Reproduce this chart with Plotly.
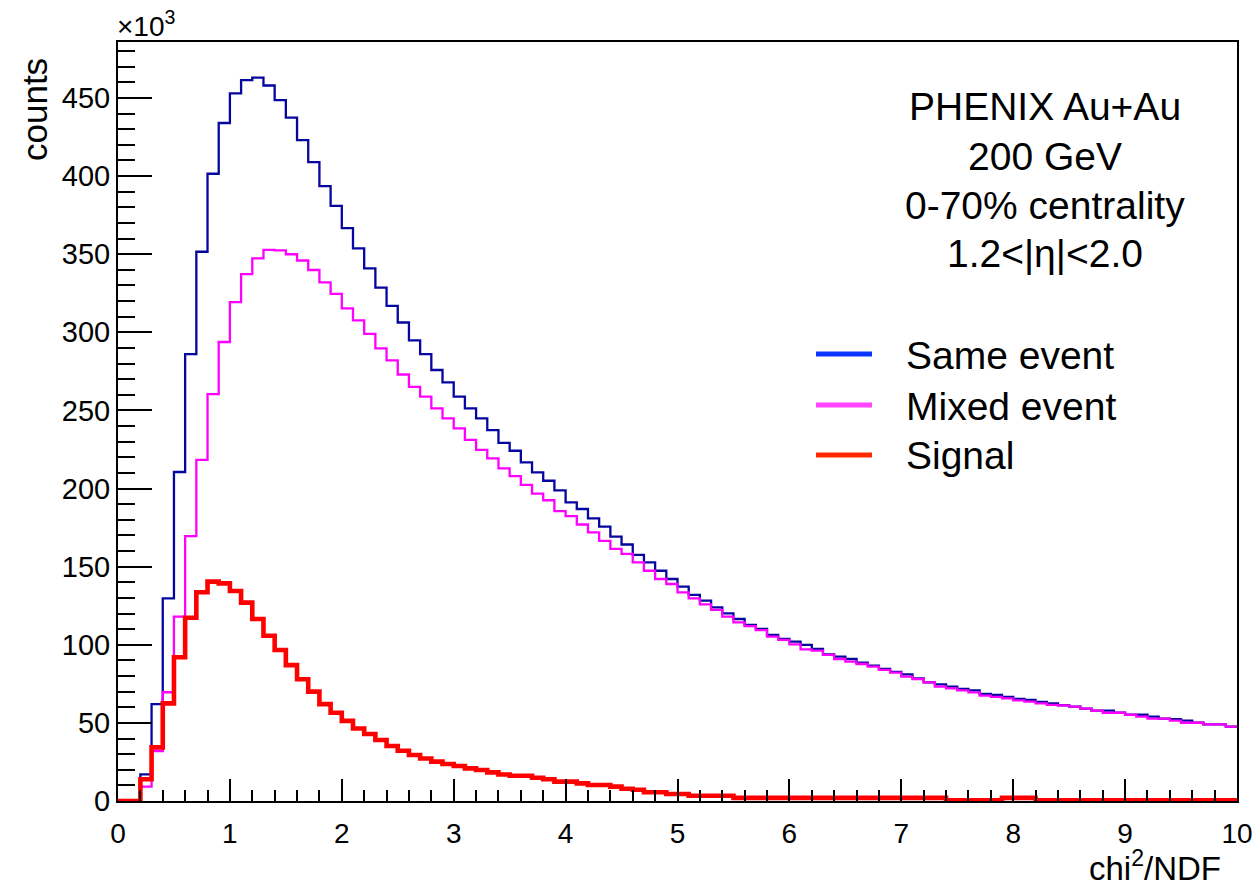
import numpy as np
import plotly.graph_objects as go

# 100 bins of width 0.1 on chi2/NDF in [0, 10]
bin_edges = np.round(np.linspace(0, 10, 101), 2)

# counts in units of 10^3
same_event = [
    0, 0, 17, 62, 129.7, 210.6, 286, 351.6, 401.5, 434,
    453, 461.5, 463, 458, 448.7, 437.4, 423, 409, 393.6, 381,
    366.7, 353.8, 341, 328.6, 316.9, 306.3, 294.8, 286.1, 275.9, 268,
    258.8, 251.3, 244.9, 237.4, 229.3, 224.2, 216.7, 210.3, 205, 198.9,
    191.2, 186.9, 180.9, 175.6, 169.2, 164.2, 157.6, 152.7, 147.4, 142.1,
    137.2, 131.9, 128.2, 124, 120.1, 116.5, 112.7, 110.1, 106.3, 103.7,
    102, 99.9, 97.3, 93.9, 92.4, 90.9, 88.5, 86.6, 84.5, 82.6,
    81.1, 78.5, 75.9, 74.7, 73.2, 71.7, 70.8, 68.5, 67.9, 66.6,
    65.3, 64.7, 63.4, 62.5, 61.3, 60.4, 59.1, 57.8, 57.8, 56.5,
    55.2, 55.2, 54, 52.7, 52.4, 51.4, 50.1, 49.1, 49.1, 47.6,
]

mixed_event = [
    0, 0, 9.2, 32, 69.6, 118, 169.6, 218.3, 260.5, 293.8,
    319.4, 337.3, 347.4, 352.8, 352.5, 350, 346, 339.9, 332, 324.6,
    315.4, 307.6, 299, 289.7, 282, 273, 265.1, 258.8, 251.3, 244.9,
    238.5, 231.1, 224.7, 219.3, 212.9, 208, 202.3, 196.7, 192.5, 185.6,
    182.4, 177, 171.9, 166.5, 161.4, 158.2, 152.7, 147.4, 142.1, 138.9,
    133.5, 129.7, 125.8, 122.3, 118, 114.3, 112, 109.4, 105.2, 103.1,
    100.3, 97.1, 96.2, 93.5, 90.9, 89.2, 87.7, 86, 83.9, 82.2,
    79.6, 78.1, 75.9, 73.2, 72.1, 70.8, 69.5, 67.4, 66.6, 65.7,
    64.4, 63.6, 62.5, 61.5, 61.2, 60.4, 59.1, 57.8, 56.5, 56.5,
    55.2, 54, 52.7, 52.7, 51.4, 50.1, 50.1, 49.1, 49.1, 47.6,
]

signal = [
    0, 0, 13.9, 34.3, 62.5, 92, 117.3, 133.6, 140.4, 139.3,
    134.4, 127, 116.5, 105.8, 96.7, 87, 77.9, 70, 62, 56.5,
    51.3, 46.4, 42.9, 39, 35.2, 32.2, 29.4, 27.2, 25.2, 23.7,
    22.4, 20.9, 19.8, 18.3, 17, 16.2, 16.2, 14.9, 13.9, 12.4,
    12.4, 11.3, 10.2, 10.2, 9.2, 7.8, 7.2, 5.6, 5.6, 4.5,
    4.5, 3.4, 3.4, 3.4, 3.4, 2, 2, 2, 2, 2,
    2, 2, 2, 2, 2, 2, 2, 2, 2, 2,
    2, 2, 2, 2, 0.5, 0.5, 0.5, 0.5, 0.5, 2,
    2, 2, 0.5, 0.5, 0.5, 0.5, 0.5, 0.5, 0.5, 0.5,
    0.5, 0.5, 0.5, 0.5, 0.5, 0.5, 0.5, 0.5, 0.5, 0.5,
]

x_ticks = [0, 1, 2, 3, 4, 5, 6, 7, 8, 9, 10]
y_ticks = [0, 50, 100, 150, 200, 250, 300, 350, 400, 450]

info_lines = ["PHENIX Au+Au", "200 GeV", "0-70% centrality", "1.2&lt;|η|&lt;2.0"]
legend_names = ["Same event", "Mixed event", "Signal"]
legend_colors = ["#0a35ff", "#ff45ff", "#ff2a00"]

FONT = "Liberation Sans, Arial, Helvetica, sans-serif"

fig = go.Figure()

series = [
    ("Same event", same_event, "#0505a0", 2.3),
    ("Mixed event", mixed_event, "#ff00ff", 2.3),
    ("Signal", signal, "#ff0000", 4.6),
]
for name, vals, color, width in series:
    xs = list(bin_edges)
    ys = list(vals) + [vals[-1]]
    fig.add_trace(go.Scatter(
        x=xs, y=ys, mode="lines", name=name, showlegend=False,
        line=dict(color=color, width=width, shape="hv"),
        hoverinfo="skip",
    ))

# plot area in pixels: x 118..1237, y 42..801
W, H = 1257, 889
L, R, T, B = 118, 20, 42, 88
pw, ph = W - L - R, H - T - B


def px(xp):
    return (xp - L) / pw


def py(yp):
    return (H - B - yp) / ph


annotations = []
info_y = [106, 156, 205, 253]
for txt, yy in zip(info_lines, info_y):
    annotations.append(dict(
        text=txt, x=px(1045), y=py(yy), xref="paper", yref="paper",
        xanchor="center", yanchor="middle", showarrow=False,
        font=dict(family=FONT, size=39, color="black"),
    ))

leg_y = [354, 405, 455]
shapes = []
for name, col, yy in zip(legend_names, legend_colors, leg_y):
    shapes.append(dict(
        type="line", xref="paper", yref="paper",
        x0=px(816), x1=px(872), y0=py(yy), y1=py(yy),
        line=dict(color=col, width=5),
    ))
    annotations.append(dict(
        text=name, x=px(904), y=py(yy + 1), xref="paper", yref="paper",
        xanchor="left", yanchor="middle", showarrow=False,
        font=dict(family=FONT, size=39, color="black"),
    ))

# axis titles and exponent
annotations.append(dict(
    text="counts", textangle=-90, x=px(35), y=py(110), xref="paper", yref="paper",
    xanchor="center", yanchor="middle", showarrow=False,
    font=dict(family=FONT, size=35, color="black"),
))
annotations.append(dict(
    text="chi<sup>2</sup>/NDF", x=px(1223), y=py(866), xref="paper", yref="paper",
    xanchor="right", yanchor="middle", showarrow=False,
    font=dict(family=FONT, size=33, color="black"),
))
annotations.append(dict(
    text="×10<sup>3</sup>", x=px(115), y=py(24), xref="paper", yref="paper",
    xanchor="left", yanchor="middle", showarrow=False,
    font=dict(family=FONT, size=28, color="black"),
))

fig.update_layout(
    width=W, height=H,
    margin=dict(l=L, r=R, t=T, b=B, pad=0, autoexpand=False),
    plot_bgcolor="white", paper_bgcolor="white",
    font=dict(family=FONT, color="black"),
    shapes=shapes, annotations=annotations,
    showlegend=False,
)

fig.update_xaxes(
    range=[0, 10], tickvals=x_ticks, ticktext=[str(v) for v in x_ticks],
    ticks="inside", ticklen=22, tickwidth=2, tickcolor="black",
    showline=True, linecolor="black", linewidth=2, mirror=True,
    showgrid=False, zeroline=False, automargin=False,
    tickfont=dict(family=FONT, size=28, color="black"),
    ticklabelstandoff=6,
    minor=dict(tick0=0, dtick=0.2, ticks="inside", ticklen=11, tickwidth=2,
               tickcolor="black", showgrid=False),
)
fig.update_yaxes(
    range=[0, 485.85], tickvals=y_ticks, ticktext=[str(v) for v in y_ticks],
    ticks="inside", ticklen=34, tickwidth=2, tickcolor="black",
    showline=True, linecolor="black", linewidth=2, mirror=True,
    showgrid=False, zeroline=False, automargin=False,
    tickfont=dict(family=FONT, size=29, color="black"),
    ticklabelstandoff=0,
    minor=dict(tick0=0, dtick=10, ticks="inside", ticklen=17, tickwidth=2,
               tickcolor="black", showgrid=False),
)

fig.write_html(
    "out.html",
    config={"displayModeBar": False},
    post_script="document.body.style.margin='0';document.body.style.padding='0';document.body.style.overflow='hidden';",
)
